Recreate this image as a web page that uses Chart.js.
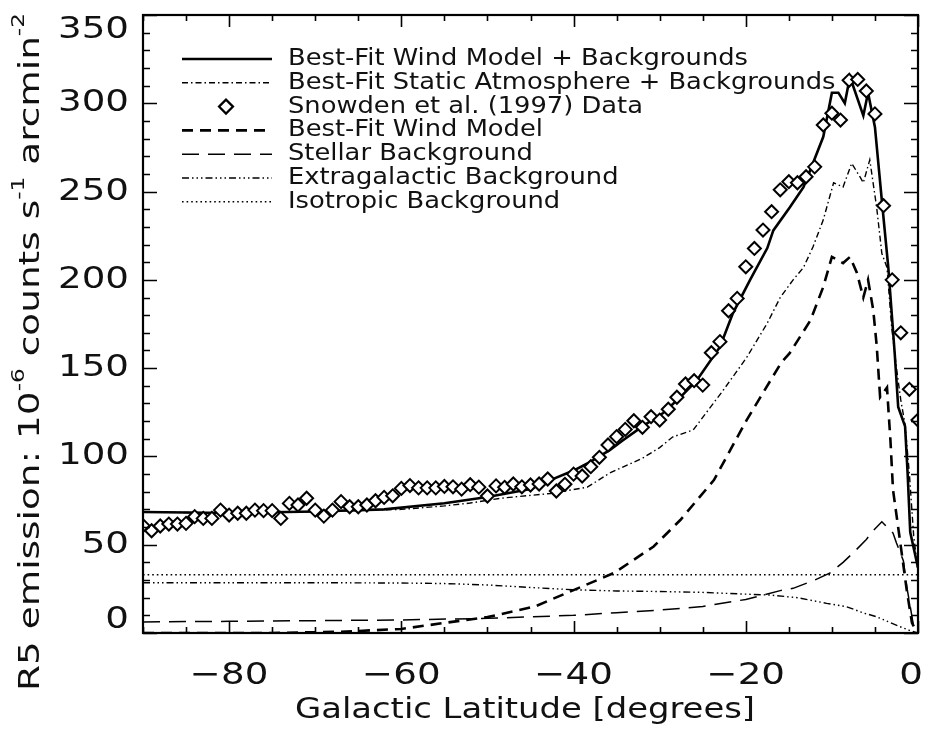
<!DOCTYPE html>
<html>
<head>
<meta charset="utf-8">
<script src="https://cdn.jsdelivr.net/npm/chart.js@4.4.1/dist/chart.umd.min.js"></script>
<style>
  html, body { margin: 0; padding: 0; background: #fff; }
</style>
</head>
<body>
<canvas id="c" width="928" height="731"></canvas>
<script>
/* ---------- data ---------- */

// Snowden et al. (1997) data, one point per degree from -90 to 0
const dataLat = [
  -90, -89, -88, -87, -86, -85, -84, -83, -82, -81, -80, -79, -78, -77, -76,
  -75, -74, -73, -72, -71, -70, -69, -68, -67, -66, -65, -64, -63, -62, -61,
  -60, -59, -58, -57, -56, -55, -54, -53, -52, -51, -50, -49, -48, -47, -46,
  -45, -44, -43, -42, -41, -40, -39, -38, -37, -36, -35, -34, -33, -32, -31,
  -30, -29, -28, -27, -26, -25, -24, -23, -22, -21, -20, -19, -18, -17, -16,
  -15, -14, -13, -12, -11, -10, -9, -8, -7, -6, -5, -4, -3, -2, -1, 0
];
const dataVal = [
  60.8, 57.9, 60.6, 61.7, 61.7, 62.1, 65.9, 64.9, 64.9, 69.6, 66.8, 67.8, 67.8, 69.6, 69.3,
  69.3, 64.9, 73.4, 72.5, 76.3, 69.6, 66.2, 69.6, 74.4, 71.5, 71.5, 72.5, 74.9, 76.8, 77.7,
  81.9, 83.5, 82.2, 82.2, 82.2, 83.0, 82.8, 81.5, 84.0, 82.6, 77.6, 83.3, 82.5, 84.4, 82.8,
  83.8, 84.4, 87.2, 80.4, 84.2, 90.0, 88.9, 94.2, 99.5, 106.5, 111.2, 115.3, 120.2, 116.5, 122.5,
  120.6, 126.7, 133.5, 141.0, 142.9, 140.4, 158.7, 165.0, 182.5, 189.5, 207.4, 217.8, 228.2, 238.6, 251.0,
  255.6, 255.0, 258.4, 264.0, 287.7, 294.4, 290.5, 313.0, 313.5, 307.0, 294.0, 242.0, 200.0, 170.0, 138.0, 120.6
];

// Best-Fit Wind Model + Backgrounds
const windBgLat = [-90, -80, -70, -62, -55, -50, -45, -42.7, -40, -38.4, -35.8, -34.3, -32, -29.6, -27.5,
  -25.7, -23, -21.5, -19.5, -17.5, -16.8, -14.9, -13.3, -12.2, -11, -10, -9.25, -8.5, -7.9, -6.35,
  -5.8, -5, -4.2, -3.45, -2.7, -2.3, -1.5, -1.2, -0.9, 0];
const windBgVal = [68.5, 68, 68.8, 70, 73.5, 77, 81.5, 86.6, 92, 96, 103.6, 109, 117, 124.6, 134,
  143, 162, 181, 200, 218, 228, 241, 252.5, 266, 281, 306, 306, 300, 315, 293,
  306, 286.5, 245, 207, 158, 128, 117, 90, 57, 37];

// Best-Fit Static Atmosphere + Backgrounds
const staticLat = [-90, -80, -70, -60, -55, -52, -48.5, -42.7, -38.4, -35.8, -32, -30, -28.5, -26.1,
  -22.6, -19.9, -17.5, -16, -14.5, -13.3, -12.2, -11, -9.8, -8.7, -7.7, -6.7, -6.35, -5.6, -4.8,
  -4.2, -3.6, -3.05, -2.5, -2, -1.5, -1, -0.5, 0];
const staticVal = [68.5, 68, 68.8, 70, 72, 73.6, 76.3, 79, 82.6, 90.6, 99, 105, 111, 115,
  137.6, 156, 175.5, 190, 200, 207, 218.6, 234, 255, 252.6, 266, 258, 255, 268, 241,
  215, 207, 173, 150, 132, 118, 90, 55, 35];

// Best-Fit Wind Model
const windLat = [-90, -75, -67, -60, -55, -50, -44.5, -40, -35.3, -30.7, -27.6, -23.7, -19.9, -15.9,
  -14.9, -12.5, -11, -10, -8.7, -7.9, -7.1, -6.35, -5.8, -5.2, -4.8, -4.4, -3.6, -3.2, -2.9,
  -2.1, -1.3, -0.7, -0.2, 0];
const windVal = [0, 0, 0.7, 2.3, 5.7, 9, 15, 24.3, 34, 49, 64, 86.6, 120.6, 153,
  158.5, 177, 196, 213, 209.5, 213, 204, 190, 200, 183, 163, 133.6, 139, 109, 81,
  52.7, 24, 5.7, 1, 0];

// Stellar Background
const stellarLat = [-90, -80, -70, -60, -50, -40, -35, -30, -25, -20, -16, -14.5, -12, -10.2, -8.7,
  -7.4, -6, -5.2, -4.2, -2.9, -2.5, -1.7, -1.3, -0.9, -0.5, 0];
const stellarVal = [6.3, 6.6, 7, 7.4, 8.3, 10, 11.5, 13, 15, 19, 24, 25.3, 30, 34, 40,
  46, 53, 58, 63, 56.6, 51, 41, 26, 15, 3.6, 0];

// Extragalactic Background
const extraLat = [-90, -70, -60, -55, -50, -45, -40, -35, -30, -25, -20, -17.2, -14, -10.6, -8.3,
  -6.3, -4.8, -2.1, -1, 0];
const extraVal = [28.5, 28.5, 28.3, 28, 27.2, 25.8, 24.5, 23.8, 23.5, 23, 22, 21.5, 20, 16.8, 14.9,
  11.3, 9.2, 3.6, 1.5, 0];

// Isotropic Background
const isoLat = [-90, 0];
const isoVal = [33, 33];

const seriesNames = [
  "Best-Fit Wind Model + Backgrounds",
  "Best-Fit Static Atmosphere + Backgrounds",
  "Snowden et al. (1997) Data",
  "Best-Fit Wind Model",
  "Stellar Background",
  "Extragalactic Background",
  "Isotropic Background"
];

const xMajorTicks = [-80, -60, -40, -20, 0];
const xTickLabels = ["\u221280", "\u221260", "\u221240", "\u221220", "0"];
const yMajorTicks = [0, 50, 100, 150, 200, 250, 300, 350];
const yTickLabels = ["0", "50", "100", "150", "200", "250", "300", "350"];

/* ---------- helpers ---------- */

const FONT = '"DejaVu Sans", sans-serif';
const STRETCH = 1.2; // the original face is wider than DejaVu

function pts(xs, ys) {
  return xs.map((x, i) => ({ x, y: ys[i] }));
}

function line(label, xs, ys, width, dash, order) {
  return {
    label,
    data: pts(xs, ys),
    borderColor: "#000",
    borderWidth: width,
    borderDash: dash,
    borderCapStyle: "butt",
    pointRadius: 0,
    tension: 0,
    fill: false,
    order
  };
}

// text drawn a bit wider than the font, align = left|center|right
function wideText(ctx, text, x, y, align, sx) {
  const w = ctx.measureText(text).width * sx;
  let left = x;
  if (align === "center") left = x - w / 2;
  if (align === "right") left = x - w;
  ctx.save();
  ctx.textAlign = "left";
  ctx.translate(left, y);
  ctx.scale(sx, 1);
  ctx.fillText(text, 0, 0);
  ctx.restore();
}

/* ---------- frame, ticks, labels, legend ---------- */

const framePlugin = {
  id: "frame",
  afterDatasetsDraw(chart) {
    const { ctx, chartArea: a, scales: { x, y } } = chart;
    ctx.save();
    ctx.strokeStyle = "#000";

    // ticks on all four sides, pointing in
    ctx.lineWidth = 1.6;
    ctx.beginPath();
    for (let v = -90; v <= 0; v += 5) {
      const px = Math.round(x.getPixelForValue(v)) + 0.5;
      const len = xMajorTicks.includes(v) ? 12 : 6;
      ctx.moveTo(px, a.bottom); ctx.lineTo(px, a.bottom - len);
      ctx.moveTo(px, a.top); ctx.lineTo(px, a.top + len);
    }
    for (let v = 0; v <= 350; v += 10) {
      const py = Math.round(y.getPixelForValue(v)) + 0.5;
      const len = yMajorTicks.includes(v) ? 14 : 7;
      ctx.moveTo(a.left, py); ctx.lineTo(a.left + len, py);
      ctx.moveTo(a.right, py); ctx.lineTo(a.right - len, py);
    }
    ctx.stroke();

    ctx.lineWidth = 2.2;
    ctx.strokeRect(a.left, a.top, a.right - a.left, a.bottom - a.top);

    // tick labels
    ctx.fillStyle = "#111";
    ctx.font = "31px " + FONT;
    ctx.textBaseline = "middle";
    yMajorTicks.forEach((v, i) => {
      let py = y.getPixelForValue(v);
      if (v === 350) py += 15;
      if (v === 0) py -= 13;
      wideText(ctx, yTickLabels[i], a.left - 14, py, "right", STRETCH);
    });
    xMajorTicks.forEach((v, i) => {
      let px = x.getPixelForValue(v);
      if (v === 0) px -= 7;
      wideText(ctx, xTickLabels[i], px, a.bottom + 43, "center", STRETCH);
    });

    // x title
    ctx.font = "28px " + FONT;
    const xt = "Galactic Latitude [degrees]";
    wideText(ctx, xt, 525, 711, "center", 460 / ctx.measureText(xt).width);

    // y title with superscripts, stretched along its length
    const parts = [
      { t: "R5 emission: 10", s: false },
      { t: "-6", s: true },
      { t: " counts s", s: false },
      { t: "-1", s: true },
      { t: " arcmin", s: false },
      { t: "-2", s: true }
    ];
    const big = "29px " + FONT, small = "18px " + FONT;
    let total = 0;
    parts.forEach(p => { ctx.font = p.s ? small : big; total += ctx.measureText(p.t).width; });
    const ys = 678 / total;
    ctx.save();
    ctx.translate(31, 352);
    ctx.rotate(-Math.PI / 2);
    ctx.scale(ys, 1);
    ctx.textAlign = "left";
    let cx = -total / 2;
    parts.forEach(p => {
      ctx.font = p.s ? small : big;
      ctx.fillText(p.t, cx, p.s ? -12 : 0);
      cx += ctx.measureText(p.t).width;
    });
    ctx.restore();

    // legend
    const x0 = 182, x1 = 272, tx = 288, row0 = 59, step = 23.8;
    ctx.font = "23px " + FONT;
    ctx.textBaseline = "middle";
    const ls = 460 / ctx.measureText(seriesNames[0]).width;
    chart.data.datasets.forEach((ds, i) => {
      const ly = row0 + i * step;
      ctx.save();
      ctx.strokeStyle = "#000";
      if (ds.showLine === false) {
        ctx.fillStyle = "#fff";
        Chart.helpers.drawPoint(ctx, {
          pointStyle: "rectRot", radius: 7, rotation: 0, borderWidth: 2
        }, (x0 + x1) / 2 - 1, ly);
      } else {
        ctx.lineWidth = ds.borderWidth;
        ctx.setLineDash(ds.borderDash || []);
        ctx.beginPath();
        ctx.moveTo(x0, ly); ctx.lineTo(x1, ly);
        ctx.stroke();
      }
      ctx.restore();
      ctx.fillStyle = "#111";
      wideText(ctx, ds.label, tx, ly, "left", ls);
    });
    ctx.restore();
  }
};

/* ---------- chart ---------- */

new Chart(document.getElementById("c"), {
  type: "line",
  data: {
    datasets: [
      line(seriesNames[0], windBgLat, windBgVal, 2.6, [], 1),
      line(seriesNames[1], staticLat, staticVal, 1.4, [6, 3, 1.5, 3], 3),
      {
        label: seriesNames[2],
        data: pts(dataLat, dataVal),
        showLine: false,
        pointStyle: "rectRot",
        pointRadius: 6.5,
        pointBorderWidth: 2,
        pointBorderColor: "#000",
        pointBackgroundColor: "#fff",
        borderColor: "#000",
        backgroundColor: "#fff",
        order: 0
      },
      line(seriesNames[3], windLat, windVal, 2.6, [11, 7], 2),
      line(seriesNames[4], stellarLat, stellarVal, 1.5, [17, 9], 4),
      line(seriesNames[5], extraLat, extraVal, 1.4, [7, 3, 1.5, 3, 1.5, 3, 1.5, 3], 5),
      line(seriesNames[6], isoLat, isoVal, 1.6, [1.6, 3], 6)
    ]
  },
  options: {
    responsive: false,
    animation: false,
    devicePixelRatio: 1,
    layout: { padding: { top: 15, right: 10, left: 0, bottom: 0 } },
    plugins: {
      legend: { display: false },
      tooltip: { enabled: false }
    },
    scales: {
      x: {
        type: "linear",
        min: -90,
        max: 0,
        ticks: { display: false },
        grid: { display: false },
        border: { display: false },
        afterFit(s) { s.height = 98; }
      },
      y: {
        type: "linear",
        min: 0,
        max: 350,
        ticks: { display: false },
        grid: { display: false },
        border: { display: false },
        afterFit(s) { s.width = 143; }
      }
    }
  },
  plugins: [framePlugin]
});
</script>
</body>
</html>
